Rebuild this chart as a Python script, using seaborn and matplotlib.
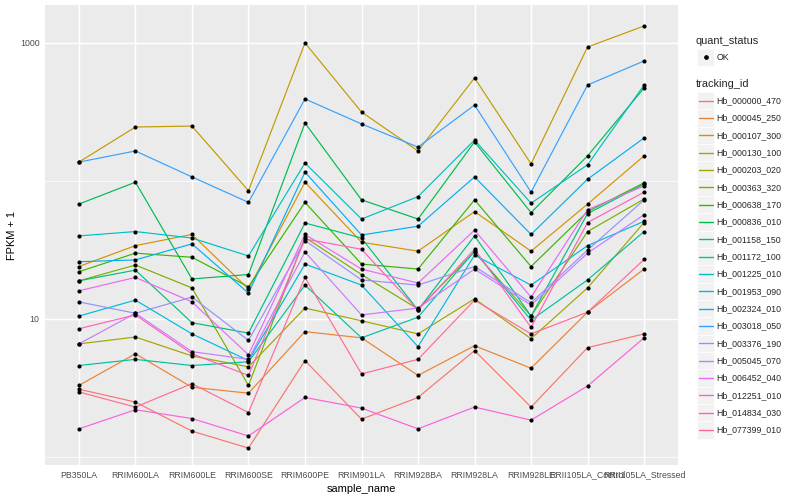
"""Expression plot (FPKM + 1 per sample) for 20 genes, ggplot-like look."""

import matplotlib
matplotlib.use("Agg")
import matplotlib.pyplot as plt
from matplotlib.lines import Line2D
from matplotlib.patches import Rectangle
from matplotlib.ticker import FixedLocator, NullFormatter
import pandas as pd
import seaborn as sns

samples = ["PB350LA", "RRIM600LA", "RRIM600LE", "RRIM600SE", "RRIM600PE", "RRIM901LA",
           "RRIM928BA", "RRIM928LA", "RRIM928LE", "RRII105LA_Control", "RRII105LA_Stressed"]

tracking_ids = ["Hb_000000_470", "Hb_000045_250", "Hb_000107_300", "Hb_000130_100", "Hb_000203_020",
                "Hb_000363_320", "Hb_000638_170", "Hb_000836_010", "Hb_001158_150", "Hb_001172_100",
                "Hb_001225_010", "Hb_001953_090", "Hb_002324_010", "Hb_003018_050", "Hb_003376_190",
                "Hb_005045_070", "Hb_006452_040", "Hb_012251_010", "Hb_014834_030", "Hb_077399_010"]

# ggplot default hue palette for 20 levels
hue_colors = ["#F8766D", "#EA8331", "#D89000", "#C09B00", "#A3A500", "#7CAE00", "#39B600", "#00BB4E",
              "#00BF7D", "#00C1A3", "#00BFC4", "#00BAE0", "#00B0F6", "#35A2FF", "#9590FF", "#C77CFF",
              "#E76BF3", "#FA62DB", "#FF62BC", "#FF6C91"]

# FPKM + 1, one value per sample
hb_000000_470 = [3.1, 2.5, 1.54, 1.16, 5.0, 1.88, 2.7, 5.9, 2.3, 6.2, 7.8]
hb_000045_250 = [3.3, 5.6, 3.2, 2.9, 8.1, 7.3, 3.9, 6.4, 4.4, 11.2, 23]
hb_000107_300 = [24, 34, 41, 16.5, 98, 36, 31, 60, 31, 68, 152]
hb_000130_100 = [137, 246, 250, 85, 1000, 316, 165, 558, 133, 935, 1328]
hb_000203_020 = [6.6, 7.4, 5.4, 4.5, 12.0, 9.7, 7.8, 14.0, 7.2, 16.8, 50]
hb_000363_320 = [18.9, 24.6, 16.8, 3.3, 39, 21, 11.8, 30.6, 10.5, 43, 74]
hb_000638_170 = [22, 30, 28, 17.1, 70, 25, 23, 73, 24, 60, 97]
hb_000836_010 = [68, 98, 19.5, 21, 263, 73, 53, 192, 59, 152, 472]
hb_001158_150 = [18.9, 22.6, 9.4, 7.9, 49.6, 38.6, 11.6, 40, 10.5, 58, 95]
hb_001172_100 = [4.6, 5.1, 4.6, 4.9, 17.6, 7.3, 10.3, 31, 9.8, 19.2, 43]
hb_001225_010 = [40, 43, 38.6, 28.6, 135, 53, 77, 198, 69, 131, 496]
hb_001953_090 = [10.5, 13.7, 7.8, 5.0, 25, 17.6, 6.3, 29, 17.6, 34, 51]
hb_002324_010 = [26, 26.8, 35, 15.4, 116, 40.6, 47, 107, 41, 103, 205]
hb_003018_050 = [137, 165, 107, 70, 393, 259, 176, 355, 83, 496, 741]
hb_003376_190 = [13.3, 11.0, 14.4, 7.0, 37, 19.2, 17.6, 24, 13.1, 31.6, 73]
hb_005045_070 = [6.6, 11.0, 5.8, 5.1, 30.6, 10.7, 12.0, 23, 12.6, 30, 57]
hb_006452_040 = [16.0, 20, 13.3, 5.5, 41, 23, 18.2, 44, 14.4, 62, 92]
hb_012251_010 = [1.6, 2.2, 1.9, 1.42, 2.7, 2.26, 1.6, 2.3, 1.85, 3.27, 7.3]
hb_014834_030 = [8.5, 10.7, 5.6, 3.9, 38, 32, 11.6, 32, 8.7, 50, 83]
hb_077399_010 = [2.96, 2.3, 3.4, 2.1, 20, 4.0, 5.1, 13.7, 7.8, 11.2, 27]

series = [hb_000000_470, hb_000045_250, hb_000107_300, hb_000130_100, hb_000203_020,
          hb_000363_320, hb_000638_170, hb_000836_010, hb_001158_150, hb_001172_100,
          hb_001225_010, hb_001953_090, hb_002324_010, hb_003018_050, hb_003376_190,
          hb_005045_070, hb_006452_040, hb_012251_010, hb_014834_030, hb_077399_010]

rows = []
for tid, vals in zip(tracking_ids, series):
    for i, (s, v) in enumerate(zip(samples, vals)):
        rows.append({"tracking_id": tid, "sample_name": s, "pos": i, "fpkm": v})
df = pd.DataFrame(rows)
palette = dict(zip(tracking_ids, hue_colors))

sns.set_theme(style="darkgrid")
plt.rcParams["font.family"] = ["Liberation Sans", "DejaVu Sans"]

W, H = 800, 500
fig = plt.figure(figsize=(W / 100, H / 100), dpi=100)
fig.patch.set_facecolor("white")
ax = fig.add_axes([45 / W, 1 - 465 / H, (678 - 45) / W, (465 - 5) / H])
ax.set_facecolor("#EBEBEB")

sns.lineplot(data=df, x="pos", y="fpkm", hue="tracking_id", hue_order=tracking_ids, palette=palette,
             estimator=None, sort=False, linewidth=0.85, legend=False, ax=ax, zorder=2)
sns.scatterplot(data=df, x="pos", y="fpkm", color="black", s=9, linewidth=0, legend=False, ax=ax, zorder=3)

ax.set_yscale("log")
ax.set_ylim(0.875, 1884)
ax.set_xlim(-0.6, 10.6)
ax.yaxis.set_major_locator(FixedLocator([10, 1000]))
ax.yaxis.set_minor_locator(FixedLocator([1, 100]))
ax.yaxis.set_minor_formatter(NullFormatter())
ax.set_yticklabels(["10", "1000"])
ax.set_xticks(range(len(samples)))
ax.set_xticklabels(samples)

ax.grid(which="major", color="white", linewidth=1.05)
ax.grid(which="minor", axis="y", color="white", linewidth=0.55)
ax.set_axisbelow(True)
for sp in ax.spines.values():
    sp.set_visible(False)
ax.tick_params(axis="both", which="major", length=2.2, width=0.8, color="#333333",
               labelsize=6.3, labelcolor="#4D4D4D", pad=1.8)
ax.tick_params(axis="y", which="minor", length=0)

ax.set_xlabel("sample_name", fontsize=7.9, color="black", labelpad=3)
ax.set_ylabel("FPKM + 1", fontsize=7.9, color="black", labelpad=2)


# legend, drawn by hand in pixel positions
def fx(x):
    return x / W


def fy(y):
    return 1 - y / H


key = 17.28
fig.text(fx(696), fy(40.7), "quant_status", fontsize=7.9, va="center", ha="left")
fig.add_artist(Rectangle((fx(697), fy(57.3 + key / 2)), key / W, key / H, transform=fig.transFigure,
                         facecolor="#F2F2F2", edgecolor="white", linewidth=0.5))
fig.add_artist(Line2D([fx(697 + key / 2)], [fy(57.3)], marker="o", markersize=2.4, color="black",
                      linestyle="none", transform=fig.transFigure))
fig.text(fx(716.7), fy(57.3), "OK", fontsize=6.3, va="center", ha="left")

fig.text(fx(696), fy(84.3), "tracking_id", fontsize=7.9, va="center", ha="left")
for i, tid in enumerate(tracking_ids):
    cy = 100.7 + i * 17.33
    fig.add_artist(Rectangle((fx(697), fy(cy + key / 2)), key / W, key / H, transform=fig.transFigure,
                             facecolor="#F2F2F2", edgecolor="white", linewidth=0.5))
    fig.add_artist(Line2D([fx(698.5), fx(712.5)], [fy(cy), fy(cy)], color=palette[tid], linewidth=1.0,
                          transform=fig.transFigure))
    fig.text(fx(716.7), fy(cy), tid, fontsize=6.3, va="center", ha="left")

fig.savefig("out.png", dpi=100)
